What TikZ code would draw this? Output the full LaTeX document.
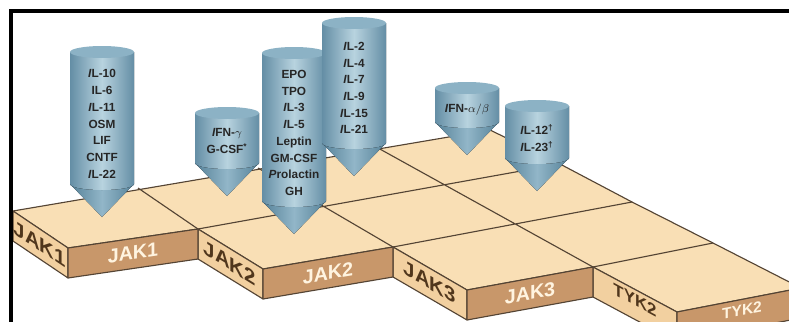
\documentclass[tikz,border=0pt]{standalone}
\usepackage{fontspec}
\setmainfont{Liberation Sans}
\usepackage{xcolor}
\usepackage{tikz}
\usetikzlibrary{calc}
\definecolor{TileTop}{RGB}{249,223,181}
\definecolor{TileSide}{RGB}{242,208,160}
\definecolor{TileFront}{RGB}{200,151,106}
\definecolor{TileLine}{RGB}{84,68,52}
\definecolor{LabelDark}{RGB}{80,54,28}
\definecolor{LabelLight}{RGB}{255,244,224}
\definecolor{CylEdge}{RGB}{100,142,165}
\definecolor{CylMid}{RGB}{184,211,223}
\definecolor{ConeEdge}{RGB}{86,130,153}
\definecolor{ConeMid}{RGB}{146,182,200}
\definecolor{CapFill}{RGB}{140,178,197}
\definecolor{CylText}{RGB}{38,38,38}
\tikzset{
    topface/.style={fill=TileTop, draw=TileLine, line width=0.8pt, line join=round},
    sideface/.style={fill=TileSide, draw=TileLine, line width=0.8pt, line join=round},
    frontface/.style={fill=TileFront, draw=TileLine, line width=0.8pt, line join=round},
    gridline/.style={draw=TileLine, line width=0.8pt},
    frontlabel/.style={font=\fontsize{14}{14}\selectfont\bfseries, text=LabelLight, inner sep=0pt},
    sidelabel/.style={font=\fontsize{14.5}{14.5}\selectfont\bfseries, text=LabelDark, inner sep=0pt},
    cyltext/.style={align=center, font=\fontsize{8.4}{11.9}\selectfont\bfseries, text=CylText, inner sep=0pt},
    pics/dropcyl/.style={code={
        \fill[left color=ConeEdge, right color=ConeEdge, middle color=ConeMid]
            (-32,#1) -- (0,#1+33) -- (32,#1) -- cycle;
        \fill[left color=CylEdge, right color=CylEdge, middle color=CylMid]
            (-32,6) -- (-32,#1) arc[start angle=180, end angle=0, x radius=32, y radius=6] -- (32,6) -- cycle;
        \fill[CapFill] (0,6) ellipse[x radius=32, y radius=6];
    }}
}

\begin{document}
\begin{tikzpicture}[x=0.025cm, y=-0.025cm,
        frameline/.style={draw=black, line width=2.2pt}
    ]
    \useasboundingbox (0,0) rectangle (789,322);
    \clip (0,0) rectangle (789,322);

    % --- lattice of the board (rows a..e, back to front) ---
    \coordinate (a0) at (13,211);
    \coordinate (a1) at (138,188);
    \coordinate (a2) at (258,168);
    \coordinate (a3) at (378,148);
    \coordinate (a4) at (490,130);
    \coordinate (b0) at (68,248);
    \coordinate (b1) at (198,229);
    \coordinate (b4) at (560,164);
    \coordinate (c1) at (263,269);
    \coordinate (c2) at (393,247);
    \coordinate (c4) at (632,202);
    \coordinate (d2) at (467,290);
    \coordinate (d3) at (593,267);
    \coordinate (d4) at (713,243);
    \coordinate (e3) at (677,312);
    \coordinate (e4) at (801,288);
    \foreach \p in {a0,b0,b1,c1,c2,d2,d3,e3,e4}
        \coordinate (\p l) at ($(\p)+(0,30)$);

    % --- top surface ---
    \filldraw[topface] (a0) -- (a4) -- (b4) -- (c4) -- (d4) -- (e4) -- (e3)
        -- (d3) -- (d2) -- (c2) -- (c1) -- (b1) -- (b0) -- cycle;
    \draw[gridline] (b1) -- (b4) (c2) -- (c4) (d3) -- (d4)
        (a1) -- (b1) (a2) -- (c2) (a3) -- (d3);

    % --- side faces ---
    \filldraw[sideface] (a0) -- (b0) -- (b0l) -- (a0l) -- cycle;
    \filldraw[sideface] (b1) -- (c1) -- (c1l) -- (b1l) -- cycle;
    \filldraw[sideface] (c2) -- (d2) -- (d2l) -- (c2l) -- cycle;
    \filldraw[sideface] (d3) -- (e3) -- (e3l) -- (d3l) -- cycle;

    % --- front faces ---
    \filldraw[frontface] (b0) -- (b1) -- (b1l) -- (b0l) -- cycle;
    \filldraw[frontface] (c1) -- (c2) -- (c2l) -- (c1l) -- cycle;
    \filldraw[frontface] (d2) -- (d3) -- (d3l) -- (d2l) -- cycle;
    \filldraw[frontface] (e3) -- (e4) -- (e4l) -- (e3l) -- cycle;

    % --- kinase labels ---
    \node[sidelabel, yslant=-0.67] (jakAs) at (40,244) {JAK1};
    \node[frontlabel, yslant=0.15] (jakAf) at (133,253) {JAK1};
    \node[sidelabel, yslant=-0.62] (jakBs) at (230,263) {JAK2};
    \node[frontlabel, yslant=0.17] (jakBf) at (328,273) {JAK2};
    \node[sidelabel, yslant=-0.58] (jakCs) at (430,282) {JAK3};
    \node[frontlabel, yslant=0.18] (jakCf) at (530,293) {JAK3};
    \node[sidelabel, font=\fontsize{12}{12}\selectfont\bfseries, yslant=-0.54] (tykS) at (635,300) {TYK2};
    \node[frontlabel, font=\fontsize{11}{11}\selectfont\bfseries, yslant=0.19] (tykF) at (742,310) {TYK2};

    % --- cytokine cylinders ---
    \pic (cylA) at (102,46) {dropcyl=138};
    \node[cyltext] (txtA) at (102,124) {\textit{I}L-10\\IL-6\\\textit{I}L-11\\OSM\\LIF\\CNTF\\\textit{I}L-22};

    \pic (cylB) at (227,107) {dropcyl=56};
    \node[cyltext] (txtB) at (227,141) {\textit{I}FN-$\gamma$\\G-CSF\textsuperscript{*}};

    \pic (cylC) at (294,47) {dropcyl=154};
    \node[cyltext] (txtC) at (294,133) {EPO\\TPO\\\textit{I}L-3\\\textit{I}L-5\\Leptin\\GM-CSF\\\textit{P}rolactin\\GH};

    \pic (cylD) at (354,17) {dropcyl=126};
    \node[cyltext] (txtD) at (354,88) {\textit{I}L-2\\\textit{I}L-4\\\textit{I}L-7\\\textit{I}L-9\\\textit{I}L-15\\\textit{I}L-21};

    \pic (cylE) at (467,82) {dropcyl=40};
    \node[cyltext] (txtE) at (467,110) {\textit{I}FN-$\alpha/\beta$};

    \pic (cylF) at (537,100) {dropcyl=58};
    \node[cyltext] (txtF) at (537,138) {\textit{I}L-12\textsuperscript{\dag}\\\textit{I}L-23\textsuperscript{\dag}};

    % --- frame ---
    \draw[frameline] (11,340) -- (11,11) -- (800,11);
\end{tikzpicture}
\end{document}
